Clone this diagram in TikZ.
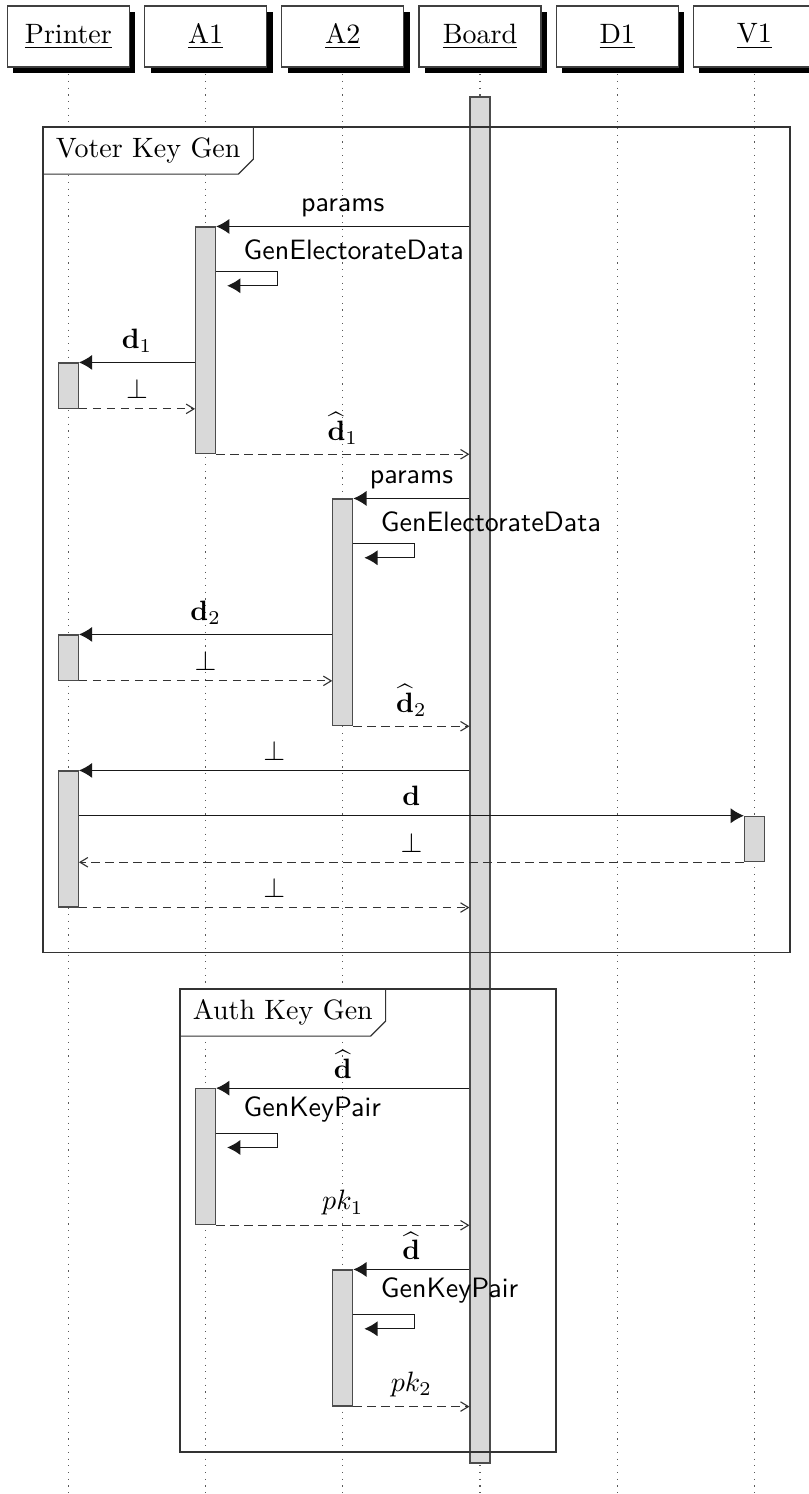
\documentclass[tikz,border=0pt]{standalone}
\usetikzlibrary{arrows.meta,shadows,calc,fit}
\pgfdeclarelayer{bg}
\pgfsetlayers{bg,main}
\begin{document}
\begin{tikzpicture}[x=0.357143pt,y=-0.357143pt,
  lifeline/.style={dotted, black!65, line width=0.4pt},
  headbox/.style={draw=black!75, fill=white, line width=0.4pt, minimum width=43.57pt, minimum height=21.79pt, inner sep=0pt,
    drop shadow={shadow xshift=2.14pt, shadow yshift=-2.14pt, fill=black, opacity=1}},
  actbox/.style={draw=black!70, fill=gray!30, line width=0.4pt, inner sep=0pt},
  call/.style={black!90, line width=0.4pt, -{Latex[length=4.7pt,width=5.4pt]}},
  reply/.style={black!80, line width=0.4pt, dash pattern=on 3pt off 2pt, -{Straight Barb[length=2.8pt,width=3.4pt]}},
  msglabel/.style={above, text=black},
  frameline/.style={draw=black!80, line width=0.4pt},
  framelabel/.style={anchor=north west, fill=white, inner xsep=4.4pt, inner ysep=3.83pt, text height=6.83pt, text depth=1.94pt},
  selflabel/.style={anchor=south west, inner sep=0pt, text=black}
]
\useasboundingbox (0,0) rectangle (808,1494);
\coordinate (bottom) at (0,1494);
% instances
\node[headbox] (printer) at (68.4,36.5) {\underline{Printer}};
\node[headbox] (aone) at (205.6,36.5) {\underline{A1}};
\node[headbox] (atwo) at (342.8,36.5) {\underline{A2}};
\node[headbox] (board) at (480,36.5) {\underline{Board}};
\node[headbox] (done) at (617.2,36.5) {\underline{D1}};
\node[headbox] (vone) at (754.4,36.5) {\underline{V1}};
\begin{pgfonlayer}{bg}
\foreach \n in {printer,aone,atwo,board,done,vone}
  \draw[lifeline] (\n.south) -- (\n.south |- bottom);
\end{pgfonlayer}
% activations
\node[actbox, fit={(470,97) (490,1463)}] (bact) {};
\node[actbox, fit={(195.6,227) (215.6,453.7)}] (aoneact) {};
\node[actbox, fit={(58.4,363) (78.4,408.3)}] (pact1) {};
\node[actbox, fit={(332.8,499) (352.8,725.7)}] (atwoact) {};
\node[actbox, fit={(58.4,635) (78.4,680.3)}] (pact2) {};
\node[actbox, fit={(58.4,771) (78.4,907)}] (pact3) {};
\node[actbox, fit={(744.4,816.3) (764.4,861.7)}] (vact) {};
\node[actbox, fit={(195.6,1088.7) (215.6,1224.7)}] (aoneactb) {};
\node[actbox, fit={(332.8,1270) (352.8,1406)}] (atwoactb) {};
% frames
\coordinate (vtl) at (43,127);
\coordinate (vbr) at (790,952.3);
\node[framelabel] (vlab) at (vtl) {Voter Key Gen};
\draw[frameline] (vtl) rectangle (vbr);
\draw[frameline] (vlab.north east) -- ($(vlab.south east)+(0,-15)$) -- ($(vlab.south east)+(-15,0)$) -- (vlab.south west);
\coordinate (atl) at (180,989);
\coordinate (abr) at (556,1452);
\node[framelabel] (alab) at (atl) {Auth Key Gen};
\draw[frameline] (atl) rectangle (abr);
\draw[frameline] (alab.north east) -- ($(alab.south east)+(0,-15)$) -- ($(alab.south east)+(-15,0)$) -- (alab.south west);
% ---- Voter key gen, A1
\draw[call] (aoneact.north east -| bact.west) -- node[msglabel] (m1) {\textsf{params}} (aoneact.north east);
\coordinate (sa) at ($(aoneact.north east)+(0,45.33)$);
\draw[call] (sa) -- ++(61,0) -- ++(0,14) -- ++(-50,0);
\node[selflabel] (m2) at ($(sa)+(27,-11)$) {\textsf{GenElectorateData}};
\draw[call] (pact1.north east -| aoneact.west) -- node[msglabel] (m3) {$\mathbf{d}_1$} (pact1.north east);
\draw[reply] (pact1.south east) -- node[msglabel] (m4) {$\perp$} (pact1.south east -| aoneact.west);
\draw[reply] (aoneact.south east) -- node[msglabel] (m5) {$\widehat{\mathbf{d}}_1$} (aoneact.south east -| bact.west);
% ---- A2
\draw[call] (atwoact.north east -| bact.west) -- node[msglabel] (m6) {\textsf{params}} (atwoact.north east);
\coordinate (sb) at ($(atwoact.north east)+(0,45.33)$);
\draw[call] (sb) -- ++(61,0) -- ++(0,14) -- ++(-50,0);
\node[selflabel] (m7) at ($(sb)+(27,-11)$) {\textsf{GenElectorateData}};
\draw[call] (pact2.north east -| atwoact.west) -- node[msglabel] (m8) {$\mathbf{d}_2$} (pact2.north east);
\draw[reply] (pact2.south east) -- node[msglabel] (m9) {$\perp$} (pact2.south east -| atwoact.west);
\draw[reply] (atwoact.south east) -- node[msglabel] (m10) {$\widehat{\mathbf{d}}_2$} (atwoact.south east -| bact.west);
% ---- printer / voter
\draw[call] (pact3.north east -| bact.west) -- node[msglabel] (m11) {$\perp$} (pact3.north east);
\draw[call] (vact.north west -| pact3.east) -- node[msglabel] (m12) {$\mathbf{d}$} (vact.north west);
\draw[reply] (vact.south west) -- node[msglabel] (m13) {$\perp$} (vact.south west -| pact3.east);
\draw[reply] (pact3.south east) -- node[msglabel] (m14) {$\perp$} (pact3.south east -| bact.west);
% ---- Auth key gen
\draw[call] (aoneactb.north east -| bact.west) -- node[msglabel] (m15) {$\widehat{\mathbf{d}}$} (aoneactb.north east);
\coordinate (sc) at ($(aoneactb.north east)+(0,45.33)$);
\draw[call] (sc) -- ++(61,0) -- ++(0,14) -- ++(-50,0);
\node[selflabel] (m16) at ($(sc)+(27,-11)$) {\textsf{GenKeyPair}};
\draw[reply] (aoneactb.south east) -- node[msglabel] (m17) {$pk_1$} (aoneactb.south east -| bact.west);
\draw[call] (atwoactb.north east -| bact.west) -- node[msglabel] (m18) {$\widehat{\mathbf{d}}$} (atwoactb.north east);
\coordinate (sd) at ($(atwoactb.north east)+(0,45.33)$);
\draw[call] (sd) -- ++(61,0) -- ++(0,14) -- ++(-50,0);
\node[selflabel] (m19) at ($(sd)+(27,-11)$) {\textsf{GenKeyPair}};
\draw[reply] (atwoactb.south east) -- node[msglabel] (m20) {$pk_2$} (atwoactb.south east -| bact.west);
\end{tikzpicture}
\end{document}
